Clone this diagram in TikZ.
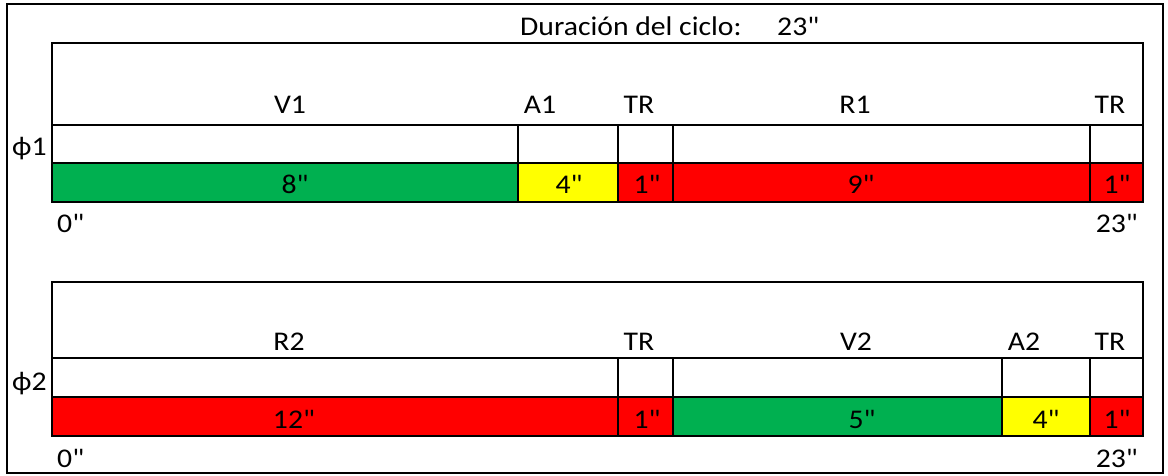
\documentclass[tikz,border=0pt]{standalone}
\usepackage{fontspec}
\setmainfont{Carlito}[Ligatures=TeXOff,FakeStretch=1.1]
\definecolor{vgreen}{HTML}{00B050}
\definecolor{vyellow}{HTML}{FFFF00}
\definecolor{vred}{HTML}{FF0000}
\tikzset{
  txt/.style={inner sep=0pt,anchor=base,font=\fontsize{27}{32}\selectfont},
  boxline/.style={line width=2.2pt},
  sepline/.style={line width=1.3pt},
  frameline/.style={line width=1.7pt},
}
\begin{document}
\begin{tikzpicture}[x=1pt,y=-1pt]
\useasboundingbox (0,0) rectangle (1168,475);
\fill[white] (0,0) rectangle (1168,475);
\draw[frameline] (7,4) rectangle (1163,473);
% title
\node[txt,anchor=base west] (title) at (520,35) {Duración del ciclo:};
\node[txt,anchor=base west] (cyc) at (777,35) {23"};
% ---------- phase 1 ----------
\fill[vgreen] (52,163) rectangle (518,202);
\fill[vyellow] (518,163) rectangle (618,202);
\fill[vred] (618,163) rectangle (1143,202);
\draw[sepline] (52,125) -- (1143,125);
\draw[boxline] (52,163) -- (1143,163);
\foreach \x in {518,618,673,1090} \draw[boxline] (\x,125) -- (\x,202);
\draw[boxline] (52,43) rectangle (1143,202);
\node[txt] (v1) at (290,113) {V1};
\node[txt] (a1) at (540,113) {A1};
\node[txt] (tr1a) at (639,113) {TR};
\node[txt] (r1) at (855,113) {R1};
\node[txt] (tr1b) at (1110,113) {TR};
\node[txt] (v1t) at (295,193) {8"};
\node[txt] (a1t) at (569,193) {4"};
\node[txt] (tr1at) at (647,193) {1"};
\node[txt] (r1t) at (861,193) {9"};
\node[txt] (tr1bt) at (1117,193) {1"};
\node[txt,anchor=base west] (z1) at (57,232) {0"};
\node[txt,anchor=base east] (e1) at (1138,232) {23"};
\node[txt,anchor=base west] (ph1) at (12,155) {ϕ1};
% ---------- phase 2 ----------
\fill[vred] (52,397) rectangle (673,436);
\fill[vgreen] (673,397) rectangle (1002,436);
\fill[vyellow] (1002,397) rectangle (1090,436);
\fill[vred] (1090,397) rectangle (1143,436);
\draw[sepline] (52,358) -- (1143,358);
\draw[boxline] (52,397) -- (1143,397);
\foreach \x in {618,673,1002,1090} \draw[boxline] (\x,358) -- (\x,436);
\draw[boxline] (52,282) rectangle (1143,436);
\node[txt] (r2) at (289,350) {R2};
\node[txt] (tr2a) at (639,350) {TR};
\node[txt] (v2) at (856,350) {V2};
\node[txt] (a2) at (1024,350) {A2};
\node[txt] (tr2b) at (1110,350) {TR};
\node[txt] (r2t) at (294,428) {12"};
\node[txt] (tr2at) at (647,428) {1"};
\node[txt] (v2t) at (862,428) {5"};
\node[txt] (a2t) at (1046,428) {4"};
\node[txt] (tr2bt) at (1117,428) {1"};
\node[txt,anchor=base west] (z2) at (57,467) {0"};
\node[txt,anchor=base east] (e2) at (1138,467) {23"};
\node[txt,anchor=base west] (ph2) at (12,390) {ϕ2};
\end{tikzpicture}
\end{document}
